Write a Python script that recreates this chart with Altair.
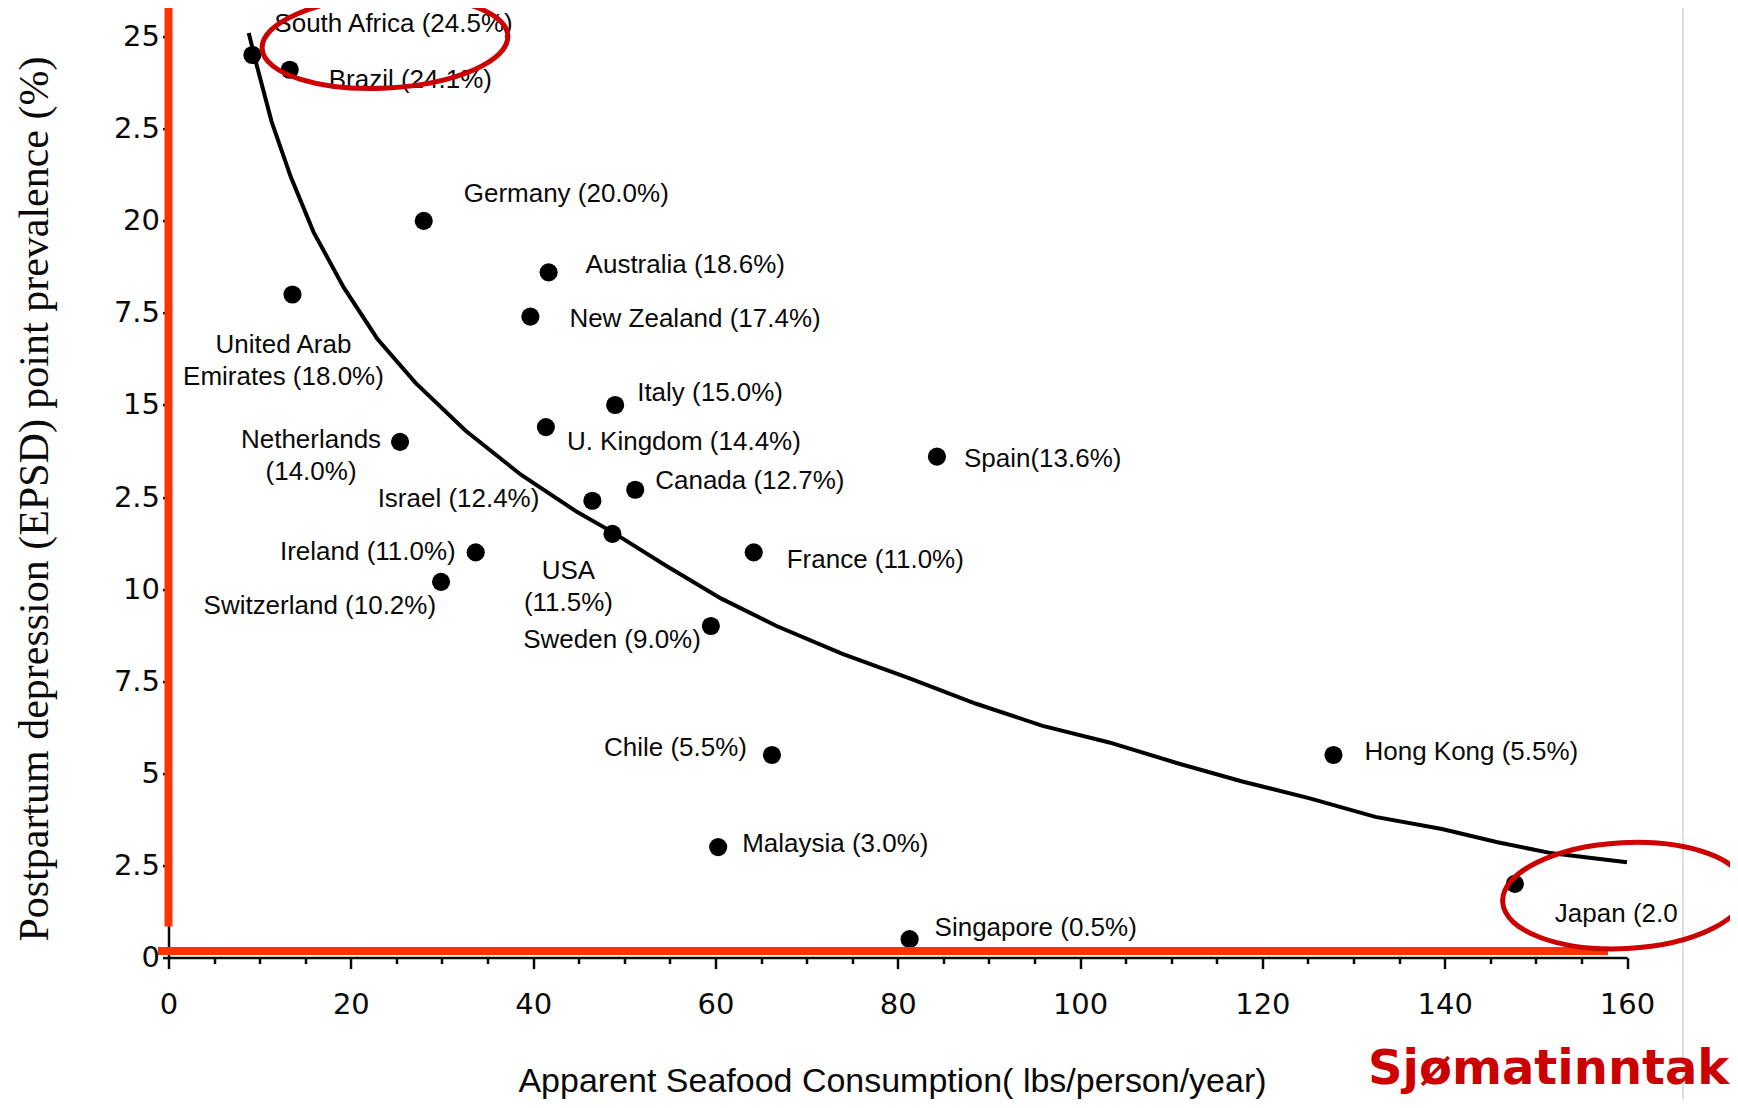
import altair as alt
import pandas as pd

# ---------------- data ----------------
countries = ["South Africa", "Brazil", "Germany", "Australia", "United Arab Emirates",
             "New Zealand", "Italy", "U. Kingdom", "Netherlands", "Spain", "Canada",
             "Israel", "USA", "Ireland", "France", "Switzerland", "Sweden", "Chile",
             "Hong Kong", "Malaysia", "Japan", "Singapore"]
seafood = [9.2, 13.3, 28.0, 41.7, 13.6, 39.7, 49.0, 41.4, 25.4, 84.3, 51.2,
           46.5, 48.7, 33.7, 64.2, 29.9, 59.5, 66.2, 127.8, 60.3, 147.7, 81.3]
prevalence = [24.5, 24.1, 20.0, 18.6, 18.0, 17.4, 15.0, 14.4, 14.0, 13.6, 12.7,
              12.4, 11.5, 11.0, 11.0, 10.2, 9.0, 5.5, 5.5, 3.0, 2.0, 0.5]
labels = ["South Africa (24.5%)", "Brazil (24.1%)", "Germany (20.0%)", "Australia (18.6%)",
          "United Arab\nEmirates (18.0%)", "New Zealand (17.4%)", "Italy (15.0%)",
          "U. Kingdom (14.4%)", "Netherlands\n(14.0%)", "Spain(13.6%)", "Canada (12.7%)",
          "Israel (12.4%)", "USA\n(11.5%)", "Ireland (11.0%)", "France (11.0%)",
          "Switzerland (10.2%)", "Sweden (9.0%)", "Chile (5.5%)", "Hong Kong (5.5%)",
          "Malaysia (3.0%)", "Japan (2.0", "Singapore (0.5%)"]

# fitted curve
curve_x = [8.8, 9.7, 11.3, 13.4, 15.9, 19.2, 22.9, 27.1, 32.6, 38.7, 44.8, 48.7, 54.5,
           60.6, 66.7, 74.0, 81.3, 88.6, 95.9, 103.2, 110.5, 117.8, 125.1, 132.4,
           139.7, 145.8, 151.8, 160.0]
curve_y = [25.1, 24.2, 22.7, 21.2, 19.7, 18.2, 16.8, 15.6, 14.3, 13.1, 12.1, 11.55, 10.65,
           9.75, 9.0, 8.24, 7.58, 6.89, 6.29, 5.84, 5.29, 4.78, 4.33, 3.82,
           3.49, 3.13, 2.83, 2.59]

x_tick_values = list(range(0, 161, 5))
y_tick_values = [0, 2.5, 5, 7.5, 10, 12.5, 15, 17.5, 20, 22.5, 25]
y_tick_labels = ["0", "2.5", "5", "7.5", "10", "2.5", "15", "7.5", "20", "2.5", "25"]

x_title = "Apparent Seafood Consumption( lbs/person/year)"
y_title = "Postpartum depression (EPSD) point prevalence (%)"
note_text = "Sjømatinntak"

# ---------------- label placement (style, px) ----------------
label_dx = [22, 39, 40, 37, -9, 39, 22, 21, -89, 27, 20, -53, -44, -20, 33, -5, -10, -25, 31, 24, 40, 25]
label_dy = [-31, 10, -27, -7, 51, 2, -12, 15, -2, 2, -9, -2, 37, 0, 8, 24, 14, -7, -3, -3, 30, -11]
label_align = ["left", "left", "left", "left", "center", "left", "left", "left", "center",
               "left", "left", "right", "center", "right", "left", "right", "right", "right",
               "left", "left", "left", "left"]

points = pd.DataFrame({"country": countries, "seafood": seafood,
                       "prevalence": prevalence, "label": labels})
curve = pd.DataFrame({"seafood": curve_x, "prevalence": curve_y})

W, H = 1458.5, 921
RED = "#ff3300"
DARKRED = "#cc0000"
INK = "#0a0a0a"

xs = alt.Scale(domain=[0, 160], nice=False, zero=False)
ys = alt.Scale(domain=[0, 25], nice=False, zero=False)

x_axis = alt.Axis(
    title=x_title, values=x_tick_values,
    labelExpr="datum.value % 20 === 0 ? datum.label : ''",
    tickSize={"condition": {"test": "datum.value % 20 === 0", "value": 11}, "value": 6},
    tickWidth=2.5, tickColor=INK, domainColor=INK, domainWidth=2.5,
    labelFont="DejaVu Sans", labelFontSize=29, labelColor=INK,
    labelPadding=22, labelFlush=False, labelOverlap=False, grid=False,
    titleFont="Liberation Sans", titleFontSize=34, titleFontWeight="normal",
    titleColor=INK, titleX=723.5, titleY=124, titleAlign="center",
    titleBaseline="middle", titleAnchor="middle",
)
y_labels_expr = "[" + ",".join('"%s"' % s for s in y_tick_labels) + "][round(datum.value / 2.5)]"
y_axis = alt.Axis(
    title=y_title, values=y_tick_values, labelExpr=y_labels_expr,
    tickSize=6, tickWidth=2.5, tickColor=INK, domainColor=INK, domainWidth=2.5,
    labelFont="DejaVu Sans", labelFontSize=29, labelColor=INK,
    labelPadding=3, labelFlush=False, labelOverlap=False, grid=False,
    titleFont="Liberation Serif", titleFontSize=42, titleFontWeight="normal",
    titleColor=INK, titleX=-134.5, titleY=462, titleAngle=270,
    titleAlign="center", titleBaseline="middle",
)

X = alt.X("seafood:Q", scale=xs, axis=x_axis)
Y = alt.Y("prevalence:Q", scale=ys, axis=y_axis)

line = alt.Chart(curve).mark_line(color="#000", strokeWidth=4).encode(x=X, y=Y, order="seafood:Q")
dots = alt.Chart(points).mark_circle(color="#000", size=330, opacity=1).encode(x=X, y=Y)

label_layers = []
for i in range(len(countries)):
    label_layers.append(
        alt.Chart(points.iloc[[i]]).mark_text(
            align=label_align[i], baseline="middle", dx=label_dx[i], dy=label_dy[i],
            lineBreak="\n", lineHeight=32, font="Liberation Sans", fontSize=26, color=INK,
        ).encode(x=X, y=Y, text="label:N")
    )

one = alt.Data(values=[{"k": 1}])

red_v = alt.Chart(one).mark_rule(color=RED, strokeWidth=8).encode(
    x=alt.value(0), y=alt.value(-29), y2=alt.value(890))
red_h = alt.Chart(one).mark_rule(color=RED, strokeWidth=8).encode(
    x=alt.value(-10.5), x2=alt.value(1439.5), y=alt.value(914.4))
gray_v = alt.Chart(one).mark_rule(color="#c8c8c8", strokeWidth=1.2).encode(
    x=alt.value(1514.5), y=alt.value(-29), y2=alt.value(1063))

def ellipse_path(ratio):
    return "M -1 0 A 1 %.3f 0 1 1 1 0 A 1 %.3f 0 1 1 -1 0 Z" % (ratio, ratio)

ell1 = alt.Chart(one).mark_point(
    shape=ellipse_path(46 / 123), size=(2 * 123) ** 2, filled=False,
    stroke=DARKRED, strokeWidth=5, opacity=1, angle=357,
).encode(x=alt.value(216.5), y=alt.value(5.5))
ell2 = alt.Chart(one).mark_point(
    shape=ellipse_path(53 / 122), size=(2 * 122) ** 2, filled=False,
    stroke=DARKRED, strokeWidth=5, opacity=1, angle=357,
).encode(x=alt.value(1456), y=alt.value(859))

note = alt.Chart(one).mark_text(
    text=note_text, align="left", baseline="middle", font="DejaVu Sans",
    fontWeight="bold", fontSize=48, color=DARKRED,
).encode(x=alt.value(1199.5), y=alt.value(1033))

chart = alt.layer(
    gray_v, line, dots, *label_layers, red_v, red_h, ell1, ell2, note
).properties(
    width=W, height=H,
    autosize=alt.AutoSizeParams(type="none"),
    padding={"left": 160.5, "top": 28.6, "right": 103, "bottom": 142},
    background="white",
).configure_view(stroke=None)

chart.save("out.html", embed_options={"renderer": "svg", "actions": False})
